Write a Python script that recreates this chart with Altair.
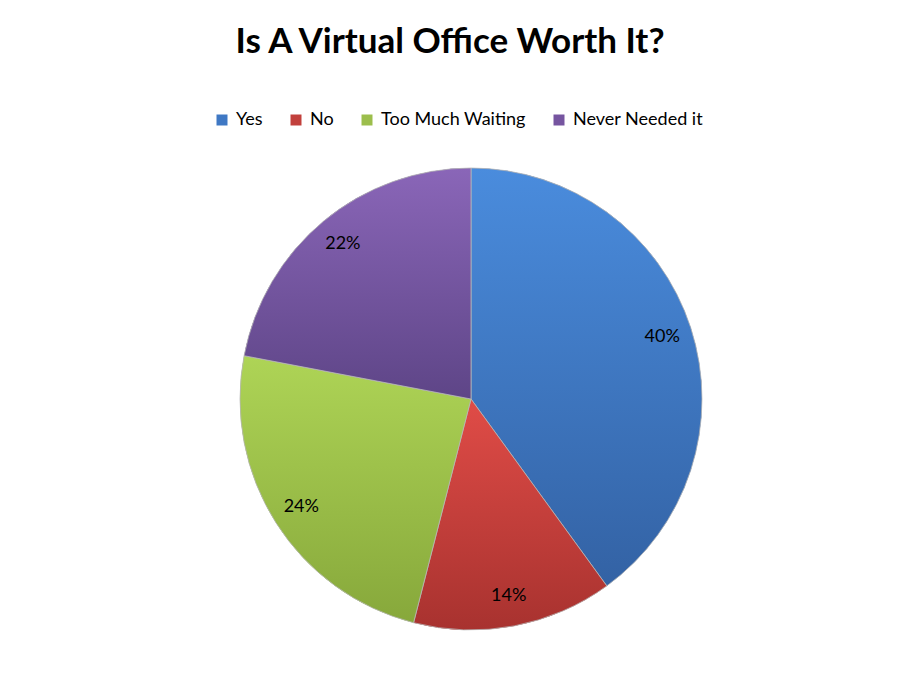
import altair as alt
import pandas as pd

categories = ["Yes", "No", "Too Much Waiting", "Never Needed it"]
values = [40, 14, 24, 22]
labels = ["40%", "14%", "24%", "22%"]
solid_colors = ["#3F78C4", "#C2403C", "#9CBE4C", "#7655A0"]
top_colors = ["#4A8CDD", "#E04C47", "#AED456", "#8A66B8"]
bottom_colors = ["#3362A4", "#A8322F", "#87A83B", "#5E4587"]

df = pd.DataFrame({
    "category": categories,
    "value": values,
    "label": labels,
    "order": list(range(len(categories))),
})

def grad(top, bottom):
    return {
        "gradient": "linear",
        "x1": 0, "y1": 0, "x2": 0, "y2": 1,
        "stops": [{"offset": 0, "color": top}, {"offset": 1, "color": bottom}],
    }

conds = [
    {"test": f"datum.category === '{c}'", "value": grad(t, b)}
    for c, t, b in zip(categories[:-1], top_colors[:-1], bottom_colors[:-1])
]
fill_def = alt.value(grad(top_colors[-1], bottom_colors[-1]), condition=conds)

FONT = "Lato"

base = alt.Chart(df).encode(
    theta=alt.Theta("value:Q", stack=True),
    order=alt.Order("order:Q"),
)

pie_legend = base.mark_arc(outerRadius=231).encode(
    color=alt.Color(
        "category:N",
        scale=alt.Scale(domain=categories, range=solid_colors),
        sort=categories,
        legend=alt.Legend(
            title=None,
            orient="none",
            direction="horizontal",
            legendX=-27,
            legendY=-57,
            symbolType="square",
            symbolSize=121,
            symbolStrokeWidth=0,
            labelFont=FONT,
            labelFontSize=18,
            labelColor="#000000",
            labelOffset=5,
            columnPadding=24,
        ),
    ),
)

pie = base.mark_arc(outerRadius=231, stroke="#b8b8b8", strokeWidth=0.8).encode(
    fill=fill_def,
)

text = base.mark_text(radius=201, font=FONT, fontSize=18, color="#000000").encode(
    text="label:N"
)

chart = (
    alt.layer(pie_legend, pie, text)
    .properties(
        width=462,
        height=462,
        autosize=alt.AutoSizeParams(type="none"),
        padding={"left": 232, "top": 160, "right": 10, "bottom": 10},
        title=alt.TitleParams(
            "Is A Virtual Office Worth It?",
            font=FONT,
            fontSize=35,
            fontWeight="bold",
            color="#000000",
            anchor="middle",
            dx=-21,
            offset=23,
            baseline="alphabetic",
        ),
    )
    .configure_view(stroke=None)
)

chart.save("out.html", embed_options={"renderer": "svg", "actions": False})
